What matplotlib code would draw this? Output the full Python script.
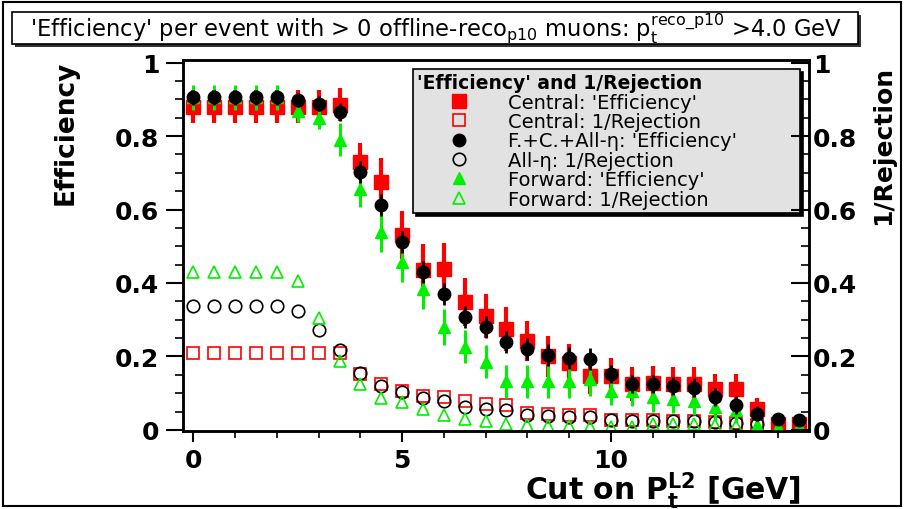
import matplotlib.pyplot as plt
from matplotlib.lines import Line2D
from matplotlib.patches import Rectangle
from matplotlib.ticker import MultipleLocator

# Cut on pT(L2) [GeV], bins of 0.5
cut = [0, 0.5, 1, 1.5, 2, 2.5, 3, 3.5, 4, 4.5, 5, 5.5, 6, 6.5, 7, 7.5,
       8, 8.5, 9, 9.5, 10, 10.5, 11, 11.5, 12, 12.5, 13, 13.5, 14, 14.5]

# Central: 'Efficiency'
cen_eff = [0.88, 0.88, 0.88, 0.88, 0.88, 0.88, 0.88, 0.885, 0.73, 0.675,
           0.53, 0.435, 0.438, 0.348, 0.31, 0.275, 0.242, 0.2, 0.183, 0.148,
           0.147, 0.125, 0.128, 0.125, 0.125, 0.112, 0.112, 0.057, 0.015, 0.015]
cen_eff_err = [0.045, 0.045, 0.045, 0.045, 0.045, 0.045, 0.045, 0.045, 0.05, 0.065,
               0.065, 0.07, 0.07, 0.065, 0.06, 0.06, 0.055, 0.055, 0.05, 0.05,
               0.05, 0.045, 0.045, 0.045, 0.045, 0.04, 0.04, 0.03, 0.02, 0.02]

# F.+C.+All-eta: 'Efficiency'
all_eff = [0.905, 0.905, 0.905, 0.905, 0.905, 0.898, 0.888, 0.866, 0.703, 0.612,
           0.512, 0.43, 0.37, 0.307, 0.28, 0.24, 0.22, 0.203, 0.197, 0.192,
           0.153, 0.125, 0.125, 0.12, 0.115, 0.09, 0.068, 0.044, 0.03, 0.028]
all_eff_err = [0.02, 0.02, 0.02, 0.02, 0.02, 0.02, 0.02, 0.025, 0.03, 0.03,
               0.03, 0.03, 0.03, 0.03, 0.03, 0.03, 0.03, 0.03, 0.03, 0.03,
               0.025, 0.025, 0.025, 0.025, 0.025, 0.025, 0.025, 0.02, 0.015, 0.015]

# Forward: 'Efficiency'
fwd_eff = [0.905, 0.905, 0.905, 0.905, 0.905, 0.868, 0.85, 0.79, 0.656, 0.54,
           0.457, 0.384, 0.28, 0.226, 0.185, 0.133, 0.133, 0.133, 0.133, 0.138,
           0.107, 0.105, 0.09, 0.085, 0.08, 0.063, 0.055, 0.012, 0.008, 0.01]
fwd_eff_err = [0.035, 0.035, 0.035, 0.035, 0.035, 0.03, 0.03, 0.045, 0.05, 0.055,
               0.055, 0.055, 0.05, 0.045, 0.045, 0.045, 0.045, 0.045, 0.045, 0.045,
               0.04, 0.04, 0.04, 0.04, 0.04, 0.035, 0.035, 0.02, 0.015, 0.015]

# 1/Rejection
cen_rej = [0.21, 0.21, 0.21, 0.21, 0.21, 0.21, 0.21, 0.21, 0.153, 0.125,
           0.107, 0.093, 0.09, 0.079, 0.07, 0.068, 0.045, 0.042, 0.04, 0.04,
           0.028, 0.027, 0.027, 0.025, 0.024, 0.022, 0.02, 0.012, 0.006, 0.006]
all_rej = [0.338, 0.338, 0.338, 0.338, 0.338, 0.324, 0.272, 0.218, 0.155, 0.12,
           0.104, 0.087, 0.08, 0.062, 0.057, 0.055, 0.041, 0.039, 0.035, 0.035,
           0.027, 0.025, 0.025, 0.024, 0.023, 0.022, 0.02, 0.015, 0.012, 0.01]
fwd_rej = [0.43, 0.43, 0.43, 0.43, 0.43, 0.405, 0.305, 0.188, 0.124, 0.087,
           0.077, 0.057, 0.041, 0.03, 0.025, 0.016, 0.012, 0.011, 0.011, 0.009,
           0.008, 0.008, 0.015, 0.015, 0.015, 0.012, 0.01, 0.006, 0.005, 0.005]

RED = "#ff0000"
GREEN = "#00f000"

fig = plt.figure(figsize=(9.06, 5.10), dpi=100)
W, H = 906, 510
ax = fig.add_axes([183 / W, 1 - 432 / H, (809 - 183) / W, (432 - 61) / H])

# open markers (1/Rejection)
ax.plot(cut, cen_rej, "s", ms=9, mfc="none", mec=RED, mew=1.2, zorder=2)
ax.plot(cut, all_rej, "o", ms=9, mfc="none", mec="black", mew=1.2, zorder=2)
ax.plot(cut, fwd_rej, "^", ms=9, mfc="none", mec=GREEN, mew=1.2, zorder=2)

# efficiencies with error bars
ax.errorbar(cut, cen_eff, yerr=cen_eff_err, fmt="s", color=RED, ms=10.5,
            elinewidth=3, capsize=0, zorder=3)
ax.errorbar(cut, fwd_eff, yerr=fwd_eff_err, fmt="^", color=GREEN, ms=9,
            elinewidth=2.2, capsize=0, zorder=4)
ax.errorbar(cut, all_eff, yerr=all_eff_err, fmt="o", color="black", ms=9,
            elinewidth=2, capsize=0, zorder=5)

ax.set_xlim(-0.25, 14.75)
ax.set_ylim(-0.003, 1.007)
for s in ax.spines.values():
    s.set_linewidth(1.8)

ax.xaxis.set_major_locator(MultipleLocator(5))
ax.xaxis.set_minor_locator(MultipleLocator(1))
ax.yaxis.set_major_locator(MultipleLocator(0.2))
ax.yaxis.set_minor_locator(MultipleLocator(0.05))
ax.tick_params(axis="x", which="major", direction="out", length=8, width=1.5, pad=4, labelsize=18)
ax.tick_params(axis="x", which="minor", direction="out", length=5, width=1.2)
ax.tick_params(axis="y", which="major", direction="out", length=12, width=1.5, pad=5, labelsize=18)
ax.tick_params(axis="y", which="minor", direction="out", length=6, width=1.2)
ax.set_yticks([0, 0.2, 0.4, 0.6, 0.8, 1])
ax.set_yticklabels(["0", "0.2", "0.4", "0.6", "0.8", "1"])
for lab in ax.get_xticklabels() + ax.get_yticklabels():
    lab.set_fontweight("bold")

ax2 = ax.twinx()
ax2.set_ylim(ax.get_ylim())
ax2.yaxis.set_major_locator(MultipleLocator(0.2))
ax2.yaxis.set_minor_locator(MultipleLocator(0.05))
ax2.set_yticks([0, 0.2, 0.4, 0.6, 0.8, 1])
ax2.set_yticklabels(["0", "0.2", "0.4", "0.6", "0.8", "1"])
ax2.tick_params(axis="y", which="major", direction="in", length=13, width=1.5, pad=3, labelsize=18)
ax2.tick_params(axis="y", which="minor", direction="in", length=6, width=1.2)
for lab in ax2.get_yticklabels():
    lab.set_fontweight("bold")
for s in ax2.spines.values():
    s.set_linewidth(1.8)

# axis titles
ax.set_xlabel(r"Cut on P$_{\mathbf{t}}^{\mathbf{L2}}$ [GeV]", fontsize=21.5,
              fontweight="bold", loc="right")
ax.xaxis.set_label_coords((801 - 183) / 626, (432 - 491) / 371)
ax.xaxis.label.set_va("center")
ax.set_ylabel("Efficiency", fontsize=19, fontweight="bold", loc="top")
ax.yaxis.set_label_coords((66 - 183) / 626, 1.0)
ax.yaxis.label.set_va("center")
ax2.set_ylabel("1/Rejection", fontsize=18, fontweight="bold", loc="top")
ax2.yaxis.set_label_coords((883 - 183) / 626, (432 - 66) / 371)
ax2.yaxis.label.set_va("center")

# legend
handles = [
    Line2D([], [], ls="none", marker="s", ms=10, color=RED),
    Line2D([], [], ls="none", marker="s", ms=9, mfc="none", mec=RED, mew=1.2),
    Line2D([], [], ls="none", marker="o", ms=9, color="black"),
    Line2D([], [], ls="none", marker="o", ms=9, mfc="none", mec="black", mew=1.2),
    Line2D([], [], ls="none", marker="^", ms=9, color=GREEN),
    Line2D([], [], ls="none", marker="^", ms=9, mfc="none", mec=GREEN, mew=1.2),
]
labels = ["Central: 'Efficiency'", "Central: 1/Rejection",
          "F.+C.+All-η: 'Efficiency'", "All-η: 1/Rejection",
          "Forward: 'Efficiency'", "Forward: 1/Rejection"]
leg = ax.legend(handles, labels, title="'Efficiency' and 1/Rejection",
                loc="upper left",
                bbox_to_anchor=(413 / W, 1 - 214 / H, 387 / W, 144 / H),
                bbox_transform=fig.transFigure, mode="expand", fontsize=14,
                title_fontproperties={"weight": "bold", "size": 13.5},
                alignment="left", numpoints=1, handlelength=4.3,
                handletextpad=0.35, labelspacing=0.02, borderpad=0.22,
                borderaxespad=0, fancybox=False, facecolor="#e2e2e2",
                edgecolor="black", framealpha=1,
                shadow={"color": "black", "alpha": 1})
leg.get_frame().set_linewidth(1.2)
leg.set_zorder(10)

# title box with shadow
fig.patches.append(Rectangle((15 / W, 1 - 48 / H), 846 / W, 32 / H,
                             transform=fig.transFigure, fc="#333333", ec="none", zorder=1))
fig.patches.append(Rectangle((12 / W, 1 - 45 / H), 846 / W, 32 / H,
                             transform=fig.transFigure, fc="white", ec="black", lw=1.2, zorder=2))
fig.text(436 / W, 1 - 29 / H,
         r"'Efficiency' per event with > 0 offline-reco$_{\rm p10}$ muons: p$_{\rm t}^{\rm reco\_p10}$ >4.0 GeV",
         ha="center", va="center", fontsize=16.3, zorder=3)

# outer frame
fig.patches.append(Rectangle((3 / W, 1 - 507 / H), 898 / W, 504 / H,
                             transform=fig.transFigure, fc="none", ec="black", lw=1.5))

fig.savefig("out.png", dpi=100)
